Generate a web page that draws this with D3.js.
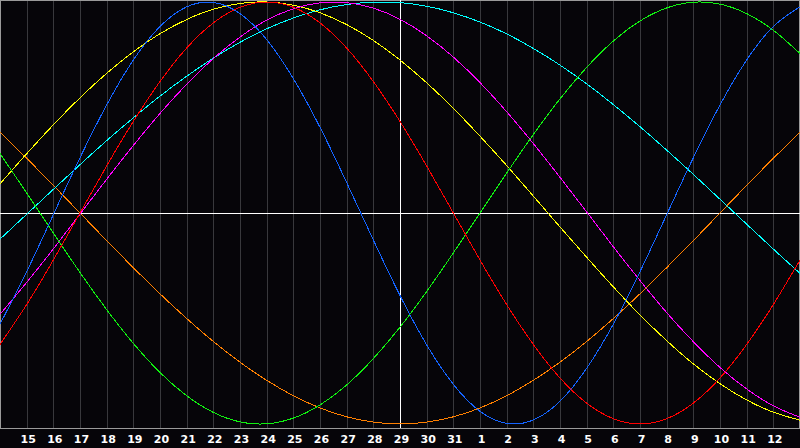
<!DOCTYPE html>
<html>
<head>
<meta charset="utf-8">
<script src="https://cdn.jsdelivr.net/npm/d3@7"></script>
<style>
  html, body { margin: 0; padding: 0; background: #060509; }
  svg { display: block; }
</style>
</head>
<body>
<div id="chart"></div>
<script>
// day labels under the grid (day 14 sits at the left edge, day 13 at the right)
const dayLabels = [15, 16, 17, 18, 19, 20, 21, 22, 23, 24, 25, 26, 27, 28, 29, 30, 31,
  1, 2, 3, 4, 5, 6, 7, 8, 9, 10, 11, 12];
const todayIndex = 15; // the 29th

// one value per day, index 0..30 (-1 .. 1)
const blue23 = [-0.527, -0.278, -0.008, 0.262, 0.512, 0.725, 0.884, 0.977, 0.998, 0.945,
  0.822, 0.637, 0.406, 0.144, -0.128, -0.391, -0.625, -0.812, -0.940, -0.997,
  -0.981, -0.892, -0.736, -0.527, -0.278, -0.008, 0.262, 0.512, 0.725, 0.884, 0.977];
const red28 = [-0.623, -0.434, -0.223, 0, 0.223, 0.434, 0.623, 0.782, 0.901, 0.975,
  1, 0.975, 0.901, 0.782, 0.623, 0.434, 0.223, 0, -0.223, -0.434,
  -0.623, -0.782, -0.901, -0.975, -1, -0.975, -0.901, -0.782, -0.623, -0.434, -0.223];
const green33 = [0.282, 0.095, -0.095, -0.282, -0.458, -0.618, -0.756, -0.866, -0.945, -0.990,
  -0.999, -0.972, -0.910, -0.815, -0.690, -0.541, -0.372, -0.189, 0, 0.189,
  0.372, 0.541, 0.690, 0.815, 0.910, 0.972, 0.999, 0.990, 0.945, 0.866, 0.756];
const magenta38 = [-0.480, -0.329, -0.170, -0.005, 0.160, 0.320, 0.472, 0.610, 0.732, 0.834,
  0.914, 0.968, 0.996, 0.997, 0.971, 0.918, 0.840, 0.739, 0.618, 0.480,
  0.329, 0.169, 0.005, -0.160, -0.320, -0.472, -0.610, -0.732, -0.834, -0.914, -0.968];
const yellow43 = [0.138, 0.281, 0.418, 0.546, 0.662, 0.764, 0.850, 0.917, 0.966, 0.993,
  1.000, 0.985, 0.949, 0.893, 0.818, 0.725, 0.617, 0.496, 0.364, 0.225,
  0.080, -0.066, -0.210, -0.350, -0.483, -0.605, -0.715, -0.809, -0.886, -0.944, -0.982];
const orange48 = [0.383, 0.259, 0.131, 0, -0.131, -0.259, -0.383, -0.500, -0.609, -0.707,
  -0.793, -0.866, -0.924, -0.966, -0.991, -1, -0.991, -0.966, -0.924, -0.866,
  -0.793, -0.707, -0.609, -0.500, -0.383, -0.259, -0.131, 0, 0.131, 0.259, 0.383];
const cyan53 = [-0.124, -0.006, 0.112, 0.229, 0.343, 0.451, 0.554, 0.648, 0.734, 0.809,
  0.873, 0.924, 0.963, 0.988, 0.999, 0.997, 0.980, 0.949, 0.905, 0.849,
  0.780, 0.701, 0.612, 0.514, 0.409, 0.298, 0.183, 0.065, -0.053, -0.171, -0.286];

const series = [
  { values: orange48, color: "#ff8000" },
  { values: cyan53, color: "#00ffff" },
  { values: yellow43, color: "#ffff00" },
  { values: magenta38, color: "#ff00ff" },
  { values: green33, color: "#10f010" },
  { values: red28, color: "#ff0000" },
  { values: blue23, color: "#1464ff" },
];

const width = 800;
const height = 448;
const plotBottom = 428;

const svg = d3.select("#chart")
  .append("svg")
  .attr("width", width)
  .attr("height", height);

svg.append("rect")
  .attr("width", width)
  .attr("height", height)
  .attr("fill", "#060509");

const x = d3.scaleLinear().domain([0, 30]).range([0, width]);
const y = d3.scaleLinear().domain([-1, 1]).range([424, 2]);

// grid lines + day labels
const axis = d3.axisBottom(x)
  .tickValues(d3.range(1, 30))
  .tickSizeInner(-plotBottom)
  .tickSizeOuter(0)
  .tickPadding(7)
  .tickFormat((d) => dayLabels[d - 1]);

const gx = svg.append("g")
  .attr("transform", `translate(0,${plotBottom})`)
  .call(axis);
gx.select(".domain").remove();
gx.selectAll(".tick line")
  .attr("stroke", "#38383c")
  .attr("shape-rendering", "crispEdges");
gx.selectAll(".tick text")
  .attr("fill", "#ffffff")
  .attr("dx", 1)
  .style("font-family", "'DejaVu Sans', sans-serif")
  .style("font-weight", "bold")
  .style("font-size", "11px");

// border
svg.append("rect")
  .attr("x", 0.5)
  .attr("y", 0.5)
  .attr("width", width - 1)
  .attr("height", plotBottom - 0.5)
  .attr("fill", "none")
  .attr("stroke", "#9a9a9a")
  .attr("shape-rendering", "crispEdges");

// zero line and today marker
svg.append("line")
  .attr("x1", 0).attr("x2", width)
  .attr("y1", y(0)).attr("y2", y(0))
  .attr("stroke", "#ffffff")
  .attr("shape-rendering", "crispEdges");
svg.append("line")
  .attr("x1", x(todayIndex)).attr("x2", x(todayIndex))
  .attr("y1", 0).attr("y2", plotBottom)
  .attr("stroke", "#ffffff")
  .attr("shape-rendering", "crispEdges");

const line = d3.line()
  .x((d, i) => x(i))
  .y((d) => y(d))
  .curve(d3.curveNatural);

series.forEach(function (s) {
  svg.append("path")
    .datum(s.values)
    .attr("fill", "none")
    .attr("stroke", s.color)
    .attr("stroke-width", 1)
    .attr("shape-rendering", "crispEdges")
    .attr("d", line);
});
</script>
</body>
</html>
